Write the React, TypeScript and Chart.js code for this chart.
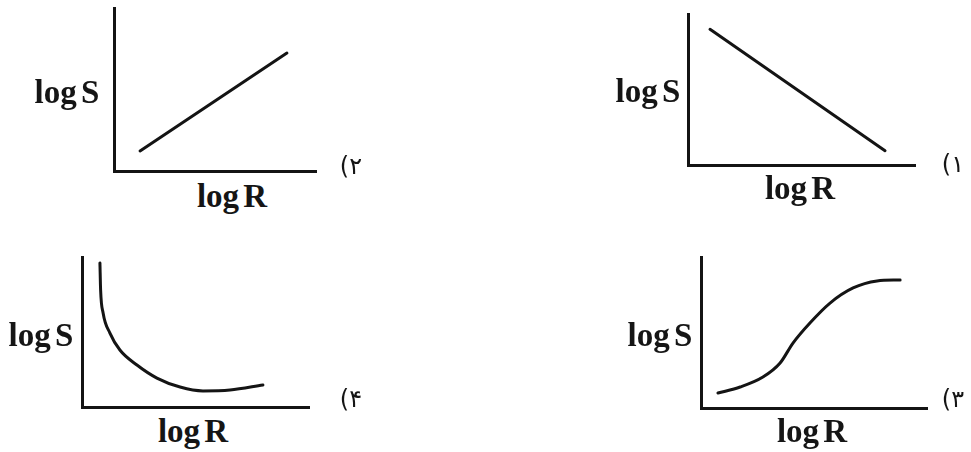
import React, { useEffect, useRef } from "react";
import { Chart, registerables } from "chart.js";

Chart.register(...registerables);

// Panel 1 (top right): straight falling line
const panel1X = [0.97, 8.68];
const panel1Y = [8.99, 0.95];
// Panel 2 (top left): straight rising line
const panel2X = [1.29, 8.56];
const panel2Y = [1.23, 7.24];
// Panel 3 (bottom right): S-shaped curve
const panel3X = [0.75, 1.73, 2.74, 3.5, 4.07, 4.82, 5.71, 6.73, 7.79, 8.81];
const panel3Y = [0.99, 1.39, 2.05, 2.98, 4.3, 5.63, 6.95, 7.95, 8.41, 8.48];
// Panel 4 (bottom left): decaying curve with shallow minimum
const panel4X = [0.79, 0.82, 0.93, 1.23, 1.67, 2.42, 3.3, 4.32, 5.33, 6.52, 7.97];
const panel4Y = [9.6, 7.8, 6.27, 4.93, 3.8, 2.8, 1.93, 1.33, 1.07, 1.13, 1.47];

const axisYLabel = "log S";
const axisXLabel = "log R";
const panelLabels = ["(۱", "(۲", "(۳", "(۴"];

const PAD = 6;

type PanelProps = {
  left: number;
  top: number;
  right: number;
  bottom: number;
  xs: number[];
  ys: number[];
  curved: boolean;
};

function Panel({ left, top, right, bottom, xs, ys, curved }: PanelProps) {
  const ref = useRef<HTMLCanvasElement | null>(null);
  const w = right - left + PAD * 2;
  const h = bottom - top + PAD * 2;
  useEffect(() => {
    if (!ref.current) return;
    const axis = {
      type: "linear" as const,
      min: 0,
      max: 10,
      display: true,
      ticks: { display: false },
      grid: { display: false, drawTicks: false },
      border: { display: true, width: 3, color: "#141414" },
    };
    const chart = new Chart(ref.current, {
      type: "line",
      data: {
        datasets: [
          {
            data: xs.map((x, i) => ({ x, y: ys[i] })),
            borderColor: "#141414",
            borderWidth: 3,
            pointRadius: 0,
            fill: false,
            tension: curved ? 0.4 : 0,
            cubicInterpolationMode: curved ? "monotone" : "default",
            borderCapStyle: "round",
            clip: false as any,
          },
        ],
      },
      options: {
        animation: false,
        responsive: false,
        layout: { padding: PAD },
        plugins: { legend: { display: false }, tooltip: { enabled: false } },
        scales: { x: { ...axis, position: "bottom" }, y: { ...axis, position: "left" } },
      },
    });
    return () => chart.destroy();
  }, []);
  return (
    <div style={{ position: "absolute", left: left - PAD, top: top - PAD, width: w, height: h }}>
      <canvas ref={ref} width={w} height={h} style={{ width: w, height: h, display: "block" }} />
    </div>
  );
}

function Label({ text, cx, baseline, kind }: { text: string; cx: number; baseline: number; kind: "axis" | "num" }) {
  const isAxis = kind === "axis";
  const size = isAxis ? 33 : 24;
  const base = isAxis ? 0.8375 * size : 0.846 * size;
  return (
    <div
      dir="ltr"
      style={{
        position: "absolute",
        left: cx - 100,
        width: 200,
        top: baseline - base,
        textAlign: "center",
        fontFamily: isAxis ? "'Liberation Serif', serif" : "'DejaVu Sans', sans-serif",
        fontWeight: isAxis ? 700 : 400,
        fontSize: size,
        lineHeight: 1,
        wordSpacing: isAxis ? -4 : 0,
        color: "#151515",
        whiteSpace: "nowrap",
      }}
    >
      {text}
    </div>
  );
}

export default function App() {
  return (
    <div style={{ position: "absolute", left: 0, top: 0, width: 971, height: 452, background: "#ffffff", overflow: "hidden" }}>
      <Panel left={114} top={8} right={316} bottom={171} xs={panel2X} ys={panel2Y} curved={false} />
      <Panel left={688} top={14} right={915} bottom={165} xs={panel1X} ys={panel1Y} curved={false} />
      <Panel left={82} top={257} right={309} bottom={407} xs={panel4X} ys={panel4Y} curved={true} />
      <Panel left={701} top={257} right={927} bottom={408} xs={panel3X} ys={panel3Y} curved={true} />

      <Label text={axisYLabel} cx={67} baseline={104} kind="axis" />
      <Label text={axisXLabel} cx={232} baseline={208} kind="axis" />
      <Label text={axisYLabel} cx={648} baseline={103} kind="axis" />
      <Label text={axisXLabel} cx={800} baseline={200} kind="axis" />
      <Label text={axisYLabel} cx={41} baseline={347} kind="axis" />
      <Label text={axisXLabel} cx={193} baseline={443} kind="axis" />
      <Label text={axisYLabel} cx={660} baseline={347} kind="axis" />
      <Label text={axisXLabel} cx={812} baseline={443} kind="axis" />

      <Label text={panelLabels[1]} cx={351} baseline={174} kind="num" />
      <Label text={panelLabels[0]} cx={953} baseline={172} kind="num" />
      <Label text={panelLabels[3]} cx={351} baseline={407} kind="num" />
      <Label text={panelLabels[2]} cx={953} baseline={407} kind="num" />
    </div>
  );
}
